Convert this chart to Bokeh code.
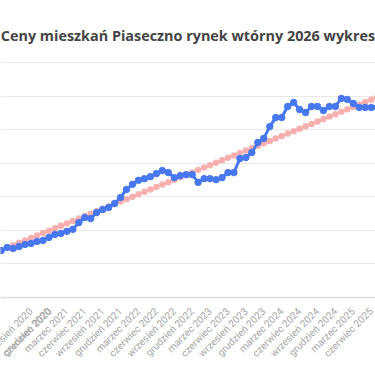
import numpy as np
from math import pi
from bokeh.plotting import figure
from bokeh.models import FixedTicker, Range1d, Label
from bokeh.embed import file_html
from bokeh.resources import INLINE

# --- data -------------------------------------------------------------
title_text = "Ceny mieszkań Piaseczno rynek wtórny 2026 wykres"

month_names = ["styczeń", "luty", "marzec", "kwiecień", "maj", "czerwiec",
               "lipiec", "sierpień", "wrzesień", "październik", "listopad", "grudzień"]
start_year = 2020
start_month = 4  # kwiecień 2020

# monthly average price (zł/m²), kwiecień 2020 .. styczeń 2026
prices = [6400, 6490, 6460, 6520, 6580, 6610, 6670, 6700, 6790, 6880,
          6910, 6970, 7030, 7230, 7380, 7350, 7530, 7620, 7680, 7800,
          7980, 8220, 8370, 8490, 8540, 8600, 8690, 8780, 8720, 8570,
          8630, 8660, 8660, 8430, 8540, 8540, 8510, 8570, 8720, 8720,
          9140, 9170, 9320, 9620, 9740, 10090, 10360, 10360, 10690, 10810,
          10600, 10510, 10690, 10690, 10570, 10690, 10690, 10930, 10900, 10780,
          10660, 10660, 10660, 10660, 10650, 10640, 10660, 10650, 10640, 10660]

tick_labels = ["czerwiec 2020", "wrzesień 2020", "grudzień 2020",
               "marzec 2021", "czerwiec 2021", "wrzesień 2021", "grudzień 2021",
               "marzec 2022", "czerwiec 2022", "wrzesień 2022", "grudzień 2022",
               "marzec 2023", "czerwiec 2023", "wrzesień 2023", "grudzień 2023",
               "marzec 2024", "czerwiec 2024", "wrzesień 2024", "grudzień 2024",
               "marzec 2025", "czerwiec 2025", "wrzesień 2025", "grudzień 2025"]

y_grid = [5000, 6000, 7000, 8000, 9000, 10000, 11000, 12000]

# --- derived ----------------------------------------------------------
month_labels = []
for k in range(len(prices)):
    m = (start_month - 1 + k) % 12
    y = start_year + (start_month - 1 + k) // 12
    month_labels.append(f"{month_names[m]} {y}")

x = list(range(len(prices)))
coef = np.polyfit(x, prices, 1)
trend = list(np.polyval(coef, x))

tick_idx = [month_labels.index(t) for t in tick_labels]

W, H = 375, 366
bottom_px = 69             # space for slanted month labels
grid_px = 235              # height of the gridded band
top_px = H - bottom_px - grid_px   # title band kept inside the frame
units_per_px = (y_grid[-1] - y_grid[0]) / grid_px
x0, x1 = -0.12, 62.72

p = figure(width=W, height=H, output_backend="svg", toolbar_location=None,
           x_range=Range1d(x0, x1),
           y_range=Range1d(y_grid[0], y_grid[-1] + top_px * units_per_px),
           min_border_left=0, min_border_right=0, min_border_top=0,
           min_border_bottom=bottom_px)

p.outline_line_color = None
p.background_fill_color = "white"
p.border_fill_color = "white"

p.yaxis.visible = False
p.yaxis.ticker = FixedTicker(ticks=y_grid)
p.ygrid.ticker = FixedTicker(ticks=y_grid)
p.ygrid.grid_line_color = "#e9e9e9"
p.ygrid.grid_line_width = 1
p.xgrid.visible = False

p.xaxis.ticker = FixedTicker(ticks=tick_idx)
p.xaxis.major_label_overrides = {i: month_labels[i] for i in tick_idx}
p.xaxis.major_label_orientation = pi / 4
p.xaxis.major_tick_line_color = None
p.xaxis.minor_tick_line_color = None
p.xaxis.axis_line_color = "#dcdcdc"
p.xaxis.axis_line_width = 1.5
p.xaxis.major_label_text_font = "Roboto"
p.xaxis.major_label_text_font_size = "10px"
p.xaxis.major_label_text_color = "#a6a6a6"
p.xaxis.major_label_standoff = 6

# title: 27 px above the top gridline
title = Label(x=(x0 + x1) / 2, y=y_grid[-1] + 27 * units_per_px, text=title_text,
              text_align="center", text_baseline="middle",
              text_font="Open Sans", text_font_size="14.4px", text_font_style="bold",
              text_color="#444444")
p.add_layout(title)

# trendline
p.line(x, trend, line_color="#f48a8a", line_width=2, line_alpha=0.35)
p.scatter(x, trend, size=6.5, fill_color="#f7a4a4", fill_alpha=0.85, line_color=None)

# main series
p.line(x, prices, line_color="#4778f0", line_width=3)
p.scatter(x, prices, size=6.5, fill_color="#4778f0", line_color="#4778f0")

open("out.html", "w").write(file_html(p, INLINE))
